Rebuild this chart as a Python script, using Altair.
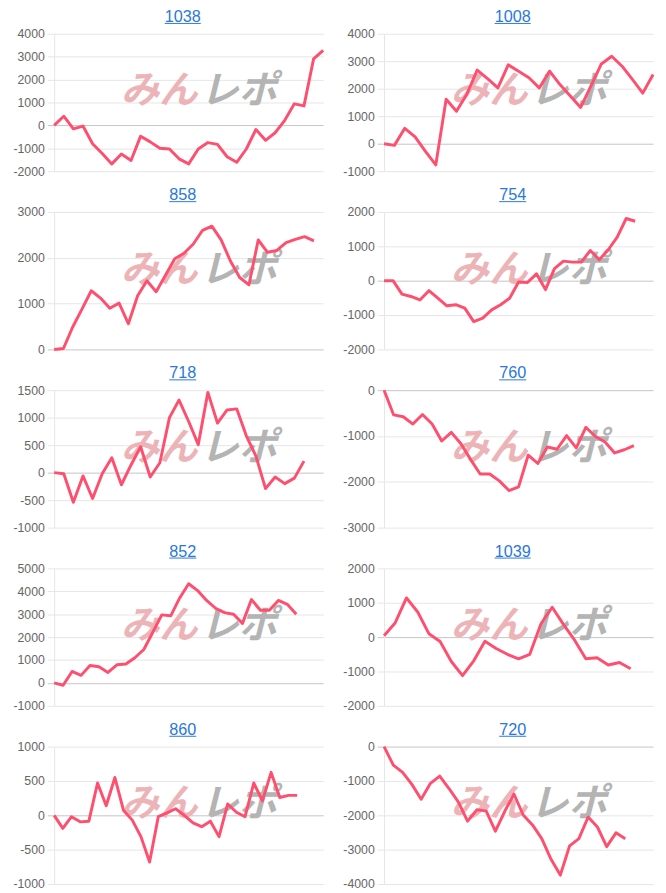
import altair as alt
import pandas as pd

# ---- data ----
titles = ["1038", "1008", "858", "754", "718", "760", "852", "1039", "860", "720"]

v1038 = [0, 400, -150, -30, -800, -1230, -1680, -1250, -1530, -470, -720, -1000, -1030, -1460,
         -1680, -1030, -750, -830, -1370, -1610, -1030, -180, -650, -320, 220, 940, 850, 2900, 3270]
v1008 = [0, -60, 560, 250, -280, -770, 1620, 1180, 1800, 2680, 2370, 2030, 2870, 2640, 2400, 2030,
         2640, 2150, 1740, 1320, 2100, 2900, 3180, 2820, 2340, 1840, 2520]
v858 = [0, 20, 490, 880, 1280, 1120, 900, 1010, 560, 1170, 1500, 1260, 1620, 1980, 2100, 2300, 2600,
        2690, 2390, 1930, 1570, 1410, 2390, 2120, 2160, 2330, 2400, 2460, 2370]
v754 = [0, 0, -390, -460, -560, -290, -510, -730, -700, -800, -1190, -1090, -850, -700, -510, -40,
        -50, 200, -260, 350, 570, 540, 540, 880, 610, 900, 1270, 1810, 1730]
v718 = [0, -20, -540, -60, -470, -20, 270, -220, 140, 470, -80, 180, 1000, 1320, 930, 510, 1460,
        900, 1140, 1160, 670, 300, -290, -80, -200, -100, 210]
v760 = [0, -540, -580, -740, -530, -740, -1110, -920, -1170, -1510, -1830, -1830, -1980, -2190,
        -2110, -1420, -1600, -1240, -1290, -990, -1260, -810, -1010, -1130, -1370, -1300, -1210]
v852 = [0, -100, 500, 330, 760, 710, 460, 790, 830, 1100, 1460, 2210, 2970, 2930, 3710, 4330, 4030,
        3600, 3260, 3070, 3000, 2600, 3640, 3170, 3170, 3600, 3430, 3000]
v1039 = [40, 420, 1140, 730, 100, -130, -710, -1120, -690, -120, -330, -500, -630, -500, 390, 870,
         370, -90, -630, -600, -810, -740, -920]
v860 = [0, -190, -20, -95, -85, 470, 140, 550, 70, -70, -310, -680, -20, 35, 95, 0, -110, -165, -85,
        -310, 165, 45, -20, 470, 210, 625, 260, 290, 290]
v720 = [0, -540, -750, -1100, -1530, -1070, -860, -1220, -1610, -2170, -1840, -1870, -2460, -1890,
        -1380, -1990, -2280, -2680, -3280, -3740, -2890, -2680, -2050, -2340, -2910, -2510, -2680]

series = [v1038, v1008, v858, v754, v718, v760, v852, v1039, v860, v720]

# number of x-axis slots (category labels) in each small chart
slots = [29, 27, 30, 31, 29, 29, 31, 25, 32, 30]

ticks1038 = [-2000, -1000, 0, 1000, 2000, 3000, 4000]
ticks1008 = [-1000, 0, 1000, 2000, 3000, 4000]
ticks858 = [0, 1000, 2000, 3000]
ticks754 = [-2000, -1000, 0, 1000, 2000]
ticks718 = [-1000, -500, 0, 500, 1000, 1500]
ticks760 = [-3000, -2000, -1000, 0]
ticks852 = [-1000, 0, 1000, 2000, 3000, 4000, 5000]
ticks1039 = [-2000, -1000, 0, 1000, 2000]
ticks860 = [-1000, -500, 0, 500, 1000]
ticks720 = [-4000, -3000, -2000, -1000, 0]
tick_sets = [ticks1038, ticks1008, ticks858, ticks754, ticks718,
             ticks760, ticks852, ticks1039, ticks860, ticks720]

watermark_a = "みん"
watermark_b = "レポ"

# ---- style ----
LINE = "#ff4f6f"
BLUE = "#2a78dc"
W, H = 274, 140
FONT = "Liberation Sans"
TITLE_SIZE = 16.5


def panel(title, values, n, ticks):
    df = pd.DataFrame({"x": list(range(len(values))), "v": values})
    line = alt.Chart(df).mark_line(color=LINE, strokeWidth=3, strokeJoin="round").encode(
        x=alt.X("x:Q", scale=alt.Scale(domain=[0, n - 1], nice=False, zero=False), axis=None),
        y=alt.Y(
            "v:Q",
            scale=alt.Scale(domain=[ticks[0], ticks[-1]], nice=False, zero=False),
            axis=alt.Axis(
                values=ticks,
                labelExpr="'' + datum.value",
                title=None,
                grid=True,
                gridColor={"condition": {"test": "datum.value === 0", "value": "#c4c4c4"},
                           "value": "#e6e6e6"},
                tickColor={"condition": {"test": "datum.value === 0", "value": "#c4c4c4"},
                           "value": "#e6e6e6"},
                domainColor="#e6e6e6",
                tickSize=7,
                labelPadding=3,
                labelFont=FONT,
                labelFontSize=12.5,
                labelColor="#666666",
            ),
        ),
    )
    wm_a = alt.Chart(pd.DataFrame({"t": [watermark_a]})).mark_text(
        font="Noto Sans CJK JP", fontSize=39, fontWeight="bold", fontStyle="italic",
        color="#ecb4b7", align="right", baseline="middle",
    ).encode(text="t:N", x=alt.value(146), y=alt.value(59))
    wm_b = alt.Chart(pd.DataFrame({"t": [watermark_b]})).mark_text(
        font="Noto Sans CJK JP", fontSize=39, fontWeight="bold", fontStyle="italic",
        color="#b4b4b4", align="left", baseline="middle",
    ).encode(text="t:N", x=alt.value(149), y=alt.value(59))

    tw = len(title) * 0.556 * TITLE_SIZE
    cx = W / 2 - 6
    title_text = alt.Chart(pd.DataFrame({"t": [title]})).mark_text(
        font=FONT, fontSize=TITLE_SIZE, color=BLUE, align="center", baseline="alphabetic",
    ).encode(text="t:N", x=alt.value(cx), y=alt.value(-12))
    underline = alt.Chart(pd.DataFrame({"t": [title]})).mark_rule(color=BLUE, strokeWidth=1).encode(
        x=alt.value(cx - tw / 2), x2=alt.value(cx + tw / 2), y=alt.value(-10.5)
    )
    return alt.layer(wm_a, wm_b, line, title_text, underline).properties(width=W, height=H)


panels = [panel(t, v, n, tk) for t, v, n, tk in zip(titles, series, slots, tick_sets)]

chart = alt.concat(*panels, columns=2, spacing={"row": 9.5, "column": 18}).properties(
    padding={"left": 5, "top": -7, "right": 3, "bottom": 0}
).configure_view(stroke=None)

chart.save("out.html", embed_options={"renderer": "svg", "actions": False})
